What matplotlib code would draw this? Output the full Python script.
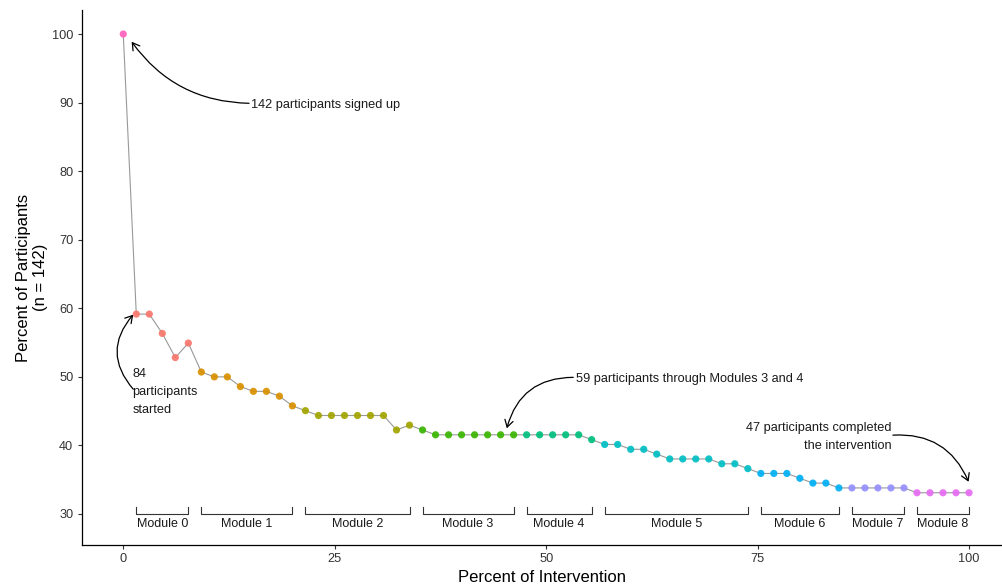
import numpy as np
import matplotlib.pyplot as plt

# participants still active at each step of the intervention (out of 142 signed up)
n_signed_up = 142
participants = [142, 84, 84, 80, 75, 78,
                72, 71, 71, 69, 68, 68, 67, 65,
                64, 63, 63, 63, 63, 63, 63, 60, 61,
                60, 59, 59, 59, 59, 59, 59, 59,
                59, 59, 59, 59, 59, 58,
                57, 57, 56, 56, 55, 54, 54, 54, 54, 53, 53, 52,
                51, 51, 51, 50, 49, 49, 48,
                48, 48, 48, 48, 48,
                47, 47, 47, 47, 47]

module_names = ["Module 0", "Module 1", "Module 2", "Module 3", "Module 4",
                "Module 5", "Module 6", "Module 7", "Module 8"]
module_sizes = [5, 8, 9, 8, 6, 12, 7, 5, 5]   # number of steps in each module

module_colors = ["#F8766D", "#D89000", "#A3A500", "#39B600", "#00BF7D",
                 "#00BFC4", "#00B0F6", "#9590FF", "#E76BF3"]
signup_color = "#FF62BC"

# percentages
pct_part = np.array(participants) / n_signed_up * 100
pct_interv = np.arange(len(participants)) / (len(participants) - 1) * 100

colors = [signup_color]
for size, col in zip(module_sizes, module_colors):
    colors += [col] * size

plt.rcParams['font.family'] = ['Liberation Sans', 'DejaVu Sans']

fig = plt.figure(figsize=(10.02, 5.84), dpi=100)
ax = fig.add_axes([0.0815, 0.0668, 0.9185, 0.916])

ax.plot(pct_interv, pct_part, color="#999999", lw=0.8, zorder=2)
ax.scatter(pct_interv, pct_part, c=colors, s=27, alpha=0.92, lw=0, zorder=3)

# module brackets under the line
start = 1
for name, size in zip(module_names, module_sizes):
    x0 = pct_interv[start]
    x1 = pct_interv[start + size - 1]
    ax.plot([x0, x0, x1, x1], [30.95, 30, 30, 30.95], color="#333333", lw=0.8)
    ax.text((x0 + x1) / 2, 28.15, name, ha='center', va='baseline',
            fontsize=9, color="#1a1a1a")
    start += size

# annotations
arrow_kw = dict(arrowstyle="->,head_length=0.5,head_width=0.3", color="black",
                lw=0.9, shrinkA=0, shrinkB=0, mutation_scale=10)


def curved_arrow(start_xy, end_xy, rad):
    kw = dict(arrow_kw, connectionstyle=f"arc3,rad={rad}")
    ax.annotate("", xy=end_xy, xytext=start_xy, arrowprops=kw)


ax.text(15.1, 89.17, "142 participants signed up", ha='left', va='baseline',
        fontsize=9.2, color="#1a1a1a")
curved_arrow((14.87, 89.9), (0.99, 98.88), -0.25)

ax.text(1.06, 44.68, "84\nparticipants\nstarted", ha='left', va='baseline',
        fontsize=9.2, linespacing=1.66, color="#1a1a1a")
curved_arrow((1.18, 48.2), (1.18, 59.07), -0.43)

ax.text(53.55, 49.3, "59 participants through Modules 3 and 4", ha='left',
        va='baseline', fontsize=9.2, color="#1a1a1a")
curved_arrow((53.2, 49.93), (45.35, 42.5), 0.38)

ax.text(90.8, 39.52, "47 participants completed\nthe intervention", ha='right',
        va='baseline', multialignment='right', fontsize=9.2, linespacing=1.66,
        color="#1a1a1a")
curved_arrow((91.0, 41.5), (99.95, 34.7), -0.35)

# axes styling
ax.set_xlim(-4.92, 103.9)
ax.set_ylim(25.48, 103.5)
ax.set_xticks([0, 25, 50, 75, 100])
ax.set_yticks(range(30, 101, 10))
for side in ['top', 'right']:
    ax.spines[side].set_visible(False)
for side in ['left', 'bottom']:
    ax.spines[side].set_linewidth(0.9)
ax.tick_params(length=2.7, width=0.8, color="#333333", labelsize=9.2,
               labelcolor="#333333", pad=3.3)

ax.set_xlabel("Percent of Intervention", fontsize=12)
ax.set_ylabel("Percent of Participants\n(n = 142)", fontsize=12)
ax.xaxis.set_label_coords(0.5, -0.046)
ax.yaxis.set_label_coords(-0.0366, 0.5)

fig.savefig("out.png", dpi=100)
